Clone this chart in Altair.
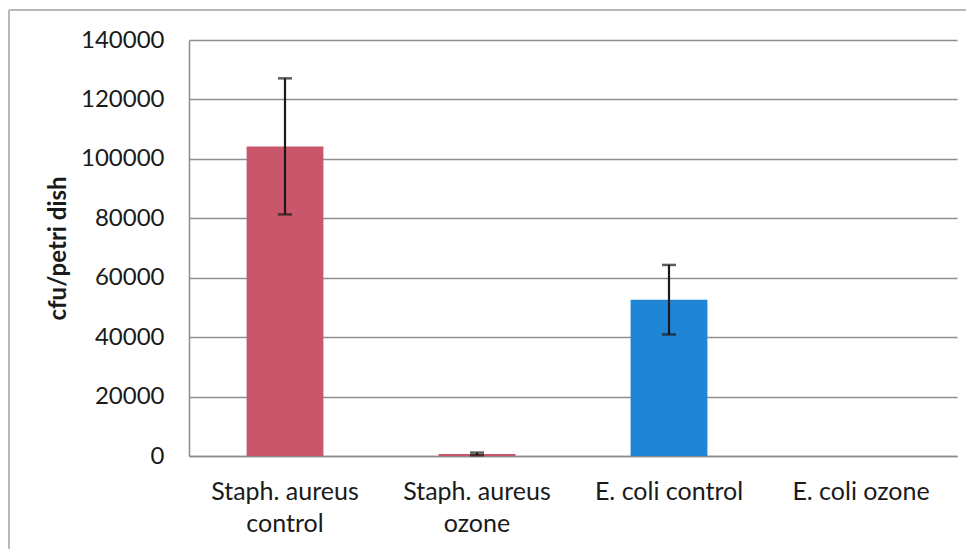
import altair as alt
import pandas as pd

categories = ["Staph. aureus control", "Staph. aureus ozone", "E. coli control", "E. coli ozone"]
label_lines = [["Staph. aureus", "control"], ["Staph. aureus", "ozone"], ["E. coli control"], ["E. coli ozone"]]
values = [104200, 700, 52600, 0]
errors = [22900, 450, 11700, 0]
colors = ["#c9566a", "#c9566a", "#1f86d6", "#1f86d6"]
y_ticks = [0, 20000, 40000, 60000, 80000, 100000, 120000, 140000]

df = pd.DataFrame({
    "cat": categories,
    "val": values,
    "err": errors,
    "lo": [v - e for v, e in zip(values, errors)],
    "hi": [v + e for v, e in zip(values, errors)],
    "color": colors,
})

label_map = "{" + ",".join(
    "'" + c + "':[" + ",".join("'" + l + "'" for l in ls) + "]" for c, ls in zip(categories, label_lines)
) + "}"

FONT = "Lato"
W, H = 768, 416

xscale = alt.Scale(domain=categories, paddingInner=0.6, paddingOuter=0.3)
yscale = alt.Scale(domain=[0, 140000], nice=False)

x_enc = alt.X("cat:N", scale=xscale, sort=categories, axis=alt.Axis(
    title=None, labelAngle=0, labelExpr=label_map + "[datum.label]",
    labelFont=FONT, labelFontSize=25, labelColor="#1a1a1a", labelPadding=23,
    labelLineHeight=32, ticks=False, domain=True, domainColor="#8c8c8c", domainWidth=1.5,
    labelBaseline="top"))

bars = alt.Chart(df).mark_bar().encode(
    x=x_enc,
    y=alt.Y("val:Q", scale=yscale, axis=alt.Axis(
        title="cfu/petri dish", values=y_ticks, format="d",
        labelFont=FONT, labelFontSize=24, labelColor="#1a1a1a", labelPadding=25,
        ticks=False, domain=True, domainColor="#8c8c8c", domainWidth=1.5,
        grid=True, gridColor="#8f8f8f", gridWidth=1.3,
        titleFont=FONT, titleFontSize=24, titleFontWeight="bold", titleColor="#1a1a1a",
        titleAngle=-90, titleX=-131, titleY=H / 2, titleAlign="center", titleBaseline="middle")),
    color=alt.Color("color:N", scale=None),
)

err_base = alt.Chart(df).transform_filter("datum.err > 0")

rules = err_base.mark_rule(color="#1a1a1a", strokeWidth=2.2).encode(
    x=alt.X("cat:N", scale=xscale, sort=categories),
    y=alt.Y("lo:Q", scale=yscale),
    y2="hi:Q",
)
caps_hi = err_base.mark_tick(color="#1a1a1a", thickness=2.5, size=14, orient="horizontal").encode(
    x=alt.X("cat:N", scale=xscale, sort=categories),
    y=alt.Y("hi:Q", scale=yscale),
)
caps_lo = err_base.mark_tick(color="#1a1a1a", thickness=2.5, size=14, orient="horizontal").encode(
    x=alt.X("cat:N", scale=xscale, sort=categories),
    y=alt.Y("lo:Q", scale=yscale),
)

frame_top = alt.Chart(df).mark_rule(stroke="#b8b8b8", strokeWidth=1.5, clip=False).encode(
    x=alt.value(-180), x2=alt.value(800), y=alt.value(-30),
)
frame_left = alt.Chart(df).mark_rule(stroke="#b8b8b8", strokeWidth=1.5, clip=False).encode(
    x=alt.value(-180), y=alt.value(-30), y2=alt.value(520),
)

chart = alt.layer(frame_top, frame_left, bars, rules, caps_hi, caps_lo).properties(
    width=W, height=H,
    autosize=alt.AutoSizeParams(type="none"),
    padding={"left": 181, "top": 32, "right": 9, "bottom": 93},
    background="white",
).configure_view(stroke=None)

chart.save("out.html", embed_options={"renderer": "svg", "actions": False})
